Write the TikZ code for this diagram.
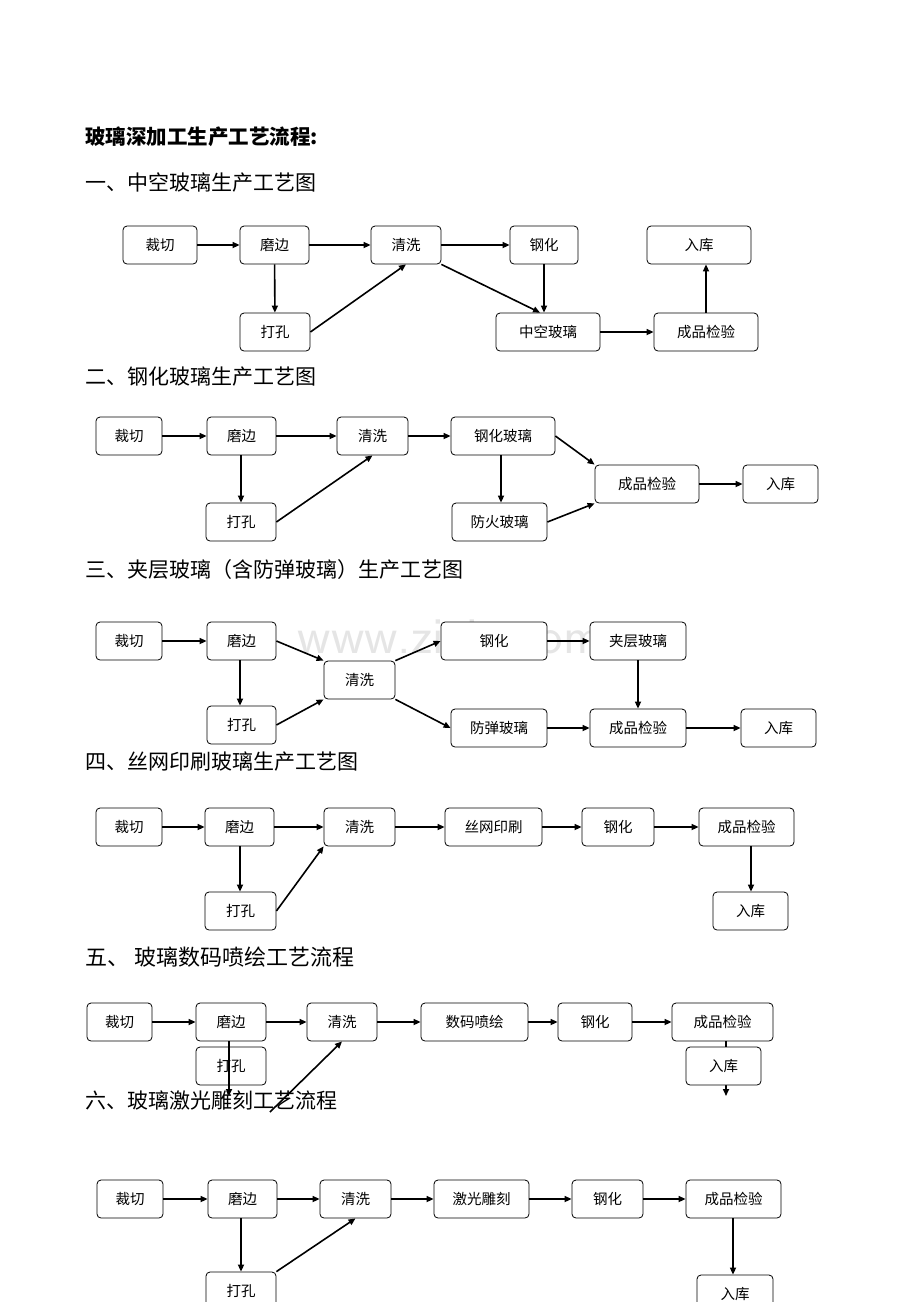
\documentclass[tikz,border=0pt]{standalone}
\usepackage{fontspec}
\newfontfamily\cjk{Noto Sans CJK SC}
\usetikzlibrary{arrows.meta}
\newcommand{\bx}[6]{\node[box,minimum width={#3-#2},minimum height={#5-#4}] (#1) at ({(#2+#3)/2},{(#4+#5)/2}) {#6};}
\begin{document}
\begin{tikzpicture}[x=1pt,y=-1pt,
  box/.style={draw,rounded corners=4pt,fill=white,inner sep=0pt,font=\cjk\fontsize{14.5}{14.5}\selectfont,line width=0.8pt},
  arr/.style={-{Triangle[length=7pt,width=6pt]},line width=1.6pt},
  head/.style={anchor=west,font=\cjk\fontsize{21}{21}\selectfont,inner sep=0pt}]
\useasboundingbox (0,0) rectangle (920,1302);
\node[font=\fontsize{52}{52}\selectfont\sffamily,text=black!10] (wm) at (480,637) {www.zixin.com.cn};
\node[head,font=\cjk\bfseries\fontsize{20.5}{20.5}\selectfont] (t0) at (85,137) {玻璃深加工生产工艺流程:};
\node[head] (t1) at (85,183) {一、中空玻璃生产工艺图};
\node[head] (t2) at (85,377) {二、钢化玻璃生产工艺图};
\node[head] (t3) at (85,570) {三、夹层玻璃（含防弹玻璃）生产工艺图};
\node[head] (t4) at (85,762) {四、丝网印刷玻璃生产工艺图};
\node[head,font=\cjk\fontsize{22}{22}\selectfont] (t5) at (85,957) {五、 玻璃数码喷绘工艺流程};
\node[head] (t6) at (85,1100) {六、玻璃激光雕刻工艺流程};
% S1
\bx{a1}{123}{197}{226}{264}{裁切}
\bx{a2}{240}{309}{226}{264}{磨边}
\bx{a3}{371}{441}{226}{264}{清洗}
\bx{a4}{510}{578}{226}{264}{钢化}
\bx{a5}{647}{751}{226}{264}{入库}
\bx{a6}{240}{310}{313}{351}{打孔}
\bx{a7}{496}{600}{313}{351}{中空玻璃}
\bx{a8}{654}{758}{313}{351}{成品检验}
\draw[arr] (a1) -- (a2); \draw[arr] (a2) -- (a3); \draw[arr] (a3) -- (a4);
\draw[arr] (a2) -- (a6); \draw[arr] (a6.east) -- (a3.south);
\draw[arr] (a3.south east) -- (a7.north west-|540,0);
\draw[arr] (a4.south) -- (a4.south|-a7.north);
\draw[arr] (a7) -- (a8); \draw[arr] (a8.north-|706,0) -- (a5.south-|706,0);
% S2
\bx{b1}{96}{162}{417}{455}{裁切}
\bx{b2}{207}{276}{417}{455}{磨边}
\bx{b3}{337}{408}{417}{455}{清洗}
\bx{b4}{451}{555}{417}{455}{钢化玻璃}
\bx{b5}{595}{699}{465}{503}{成品检验}
\bx{b6}{743}{818}{465}{503}{入库}
\bx{b7}{206}{276}{503}{541}{打孔}
\bx{b8}{452}{547}{503}{541}{防火玻璃}
\draw[arr] (b1) -- (b2); \draw[arr] (b2) -- (b3); \draw[arr] (b3) -- (b4);
\draw[arr] (b2.south-|241,0) -- (b7.north-|241,0); \draw[arr] (b7.east) -- (b3.south);
\draw[arr] (b4.east) -- (b5.north west);
\draw[arr] (b4.south-|501,0) -- (b8.north-|501,0);
\draw[arr] (b8.east) -- (b5.south west);
\draw[arr] (b5) -- (b6);
% S3
\bx{c1}{96}{162}{622}{660}{裁切}
\bx{c2}{207}{276}{622}{660}{磨边}
\bx{c3}{324}{395}{661}{699}{清洗}
\bx{c4}{441}{547}{622}{660}{钢化}
\bx{c5}{590}{686}{622}{660}{夹层玻璃}
\bx{c6}{207}{276}{706}{744}{打孔}
\bx{c7}{451}{547}{709}{747}{防弹玻璃}
\bx{c8}{590}{686}{709}{747}{成品检验}
\bx{c9}{741}{816}{709}{747}{入库}
\draw[arr] (c1) -- (c2); \draw[arr] (c2.east) -- (c3.north west);
\draw[arr] (c2.south-|240,0) -- (c6.north-|240,0); \draw[arr] (c6.east) -- (c3.south west);
\draw[arr] (c3.north east) -- (c4.west); \draw[arr] (c3.south east) -- (c7.west);
\draw[arr] (c4) -- (c5); \draw[arr] (c5) -- (c8); \draw[arr] (c7) -- (c8); \draw[arr] (c8) -- (c9);
% S4
\bx{d1}{96}{162}{808}{846}{裁切}
\bx{d2}{205}{274}{808}{846}{磨边}
\bx{d3}{324}{395}{808}{846}{清洗}
\bx{d4}{445}{542}{808}{846}{丝网印刷}
\bx{d5}{582}{654}{808}{846}{钢化}
\bx{d6}{699}{794}{808}{846}{成品检验}
\bx{d7}{205}{276}{892}{930}{打孔}
\bx{d8}{713}{788}{892}{930}{入库}
\draw[arr] (d1) -- (d2); \draw[arr] (d2) -- (d3); \draw[arr] (d3) -- (d4); \draw[arr] (d4) -- (d5); \draw[arr] (d5) -- (d6);
\draw[arr] (d2.south-|240,0) -- (d7.north-|240,0); \draw[arr] (d7.east) -- (d3.south west);
\draw[arr] (d6.south-|751,0) -- (d8.north-|751,0);
% S5
\bx{e1}{87}{152}{1003}{1041}{裁切}
\bx{e2}{196}{266}{1003}{1041}{磨边}
\bx{e3}{307}{377}{1003}{1041}{清洗}
\bx{e4}{421}{528}{1003}{1041}{数码喷绘}
\bx{e5}{558}{632}{1003}{1041}{钢化}
\bx{e6}{672}{773}{1003}{1041}{成品检验}
\bx{e7}{196}{266}{1047}{1085}{打孔}
\draw[arr] (e6.south-|726,0) -- (726,1096);
\bx{e8}{686}{761}{1047}{1085}{入库}
\coordinate (e9) at (229,1096); \coordinate (e10) at (270,1112);
\draw[arr] (e1) -- (e2); \draw[arr] (e2) -- (e3); \draw[arr] (e3) -- (e4); \draw[arr] (e4) -- (e5); \draw[arr] (e5) -- (e6);
\draw[arr] (e2.south-|229,0) -- (e9); \draw[arr] (e10) -- (e3.south);
% S6
\bx{f1}{97}{163}{1180}{1218}{裁切}
\bx{f2}{208}{277}{1180}{1218}{磨边}
\bx{f3}{320}{391}{1180}{1218}{清洗}
\bx{f4}{434}{529}{1180}{1218}{激光雕刻}
\bx{f5}{572}{643}{1180}{1218}{钢化}
\bx{f6}{686}{781}{1180}{1218}{成品检验}
\bx{f7}{206}{276}{1272}{1310}{打孔}
\bx{f8}{697}{773}{1275}{1313}{入库}
\draw[arr] (f1) -- (f2); \draw[arr] (f2) -- (f3); \draw[arr] (f3) -- (f4); \draw[arr] (f4) -- (f5); \draw[arr] (f5) -- (f6);
\draw[arr] (f2.south-|241,0) -- (f7.north-|241,0); \draw[arr] (f7.north east) -- (f3.south);
\draw[arr] (f6.south-|733,0) -- (f8.north-|733,0);
\end{tikzpicture}
\end{document}
